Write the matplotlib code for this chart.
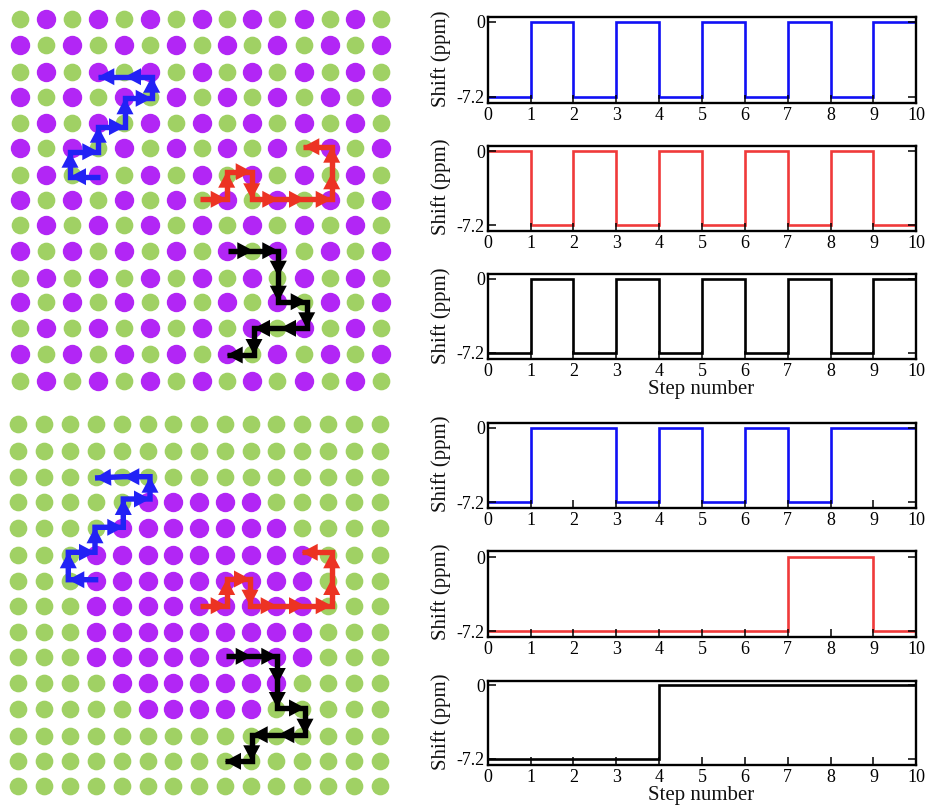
import matplotlib
matplotlib.use("Agg")
import matplotlib.pyplot as plt
import numpy as np

W, H = 928, 808
plt.rcParams['font.family'] = ['Liberation Serif', 'DejaVu Serif']

GREEN = '#a0d164'
PURPLE = '#b226f5'
BLUE = '#2222f5'
RED = '#ec3323'
BLACK = '#000000'
BLUE_T = '#1010f5'
RED_T = '#f03a3a'

# lattice site positions (pixels)
top_x = [20.0, 45.7, 72.3, 98.3, 124.0, 150.0, 175.7, 201.7, 226.7, 252.3, 277.3, 304.0, 330.0, 355.3, 381.0]
top_y = [19.3, 45.3, 71.7, 96.7, 122.7, 148.3, 175.0, 200.0, 225.0, 250.7, 278.3, 301.7, 328.3, 354.0, 380.7]
bot_x = [17.7, 43.7, 70.0, 96.0, 122.0, 147.7, 173.3, 199.3, 225.0, 250.7, 276.0, 302.0, 328.3, 354.3, 380.0]
bot_y = [424.0, 450.7, 477.3, 501.7, 528.3, 554.7, 580.7, 606.3, 632.3, 657.3, 683.3, 709.0, 735.7, 760.7, 786.3]

# purple block in the lower lattice: row -> first and last column
block_rows = [3, 4, 5, 6, 7, 8, 9, 10, 11]
block_first = [5, 4, 3, 3, 3, 3, 3, 4, 5]
block_last = [9, 10, 11, 11, 11, 11, 11, 10, 9]

# spin paths (pixels)
paths_top = {
    BLUE: ([100.0, 70.0, 70.0, 98.3, 98.3, 125.0, 125.0, 151.7, 151.7, 125.0, 98.3],
           [176.7, 176.7, 151.7, 151.7, 126.7, 126.7, 98.3, 98.3, 76.7, 76.7, 76.7]),
    RED: ([200.0, 226.7, 226.7, 251.7, 251.7, 278.3, 305.0, 331.7, 331.7, 331.7, 303.3],
          [199.3, 199.3, 171.7, 171.7, 199.3, 199.3, 199.3, 199.3, 173.3, 146.7, 146.7]),
    BLACK: ([228.3, 253.3, 278.3, 278.3, 278.3, 306.7, 306.7, 280.0, 254.0, 254.0, 226.7],
            [250.7, 250.7, 250.7, 276.7, 301.7, 301.7, 328.3, 328.3, 328.3, 355.0, 355.0]),
}
paths_bot = {
    BLUE: ([98.3, 68.3, 68.3, 95.0, 95.0, 123.3, 123.3, 150.0, 150.0, 123.3, 95.0],
           [579.7, 579.7, 552.3, 552.3, 527.3, 527.3, 499.0, 499.0, 476.7, 476.7, 478.0]),
    RED: ([200.0, 226.7, 226.7, 250.0, 250.0, 276.7, 305.0, 331.7, 331.7, 331.7, 301.7],
          [605.7, 605.7, 579.0, 579.0, 605.7, 605.7, 605.7, 605.7, 579.0, 552.3, 552.3]),
    BLACK: ([225.7, 251.7, 277.3, 277.3, 277.3, 305.0, 305.0, 278.3, 251.7, 251.7, 225.0],
            [656.3, 656.3, 656.3, 684.0, 708.0, 708.0, 734.7, 734.7, 734.7, 761.3, 761.3]),
}

# NMR shift traces: value during each of the ten steps
steps = list(range(11))
traces = [
    ([-7.2, 0, -7.2, 0, -7.2, 0, -7.2, 0, -7.2, 0], BLUE_T),
    ([0, -7.2, 0, -7.2, 0, -7.2, 0, -7.2, 0, -7.2], RED_T),
    ([-7.2, 0, -7.2, 0, -7.2, 0, -7.2, 0, -7.2, 0], BLACK),
    ([-7.2, 0, 0, -7.2, 0, -7.2, 0, -7.2, 0, 0], BLUE_T),
    ([-7.2, -7.2, -7.2, -7.2, -7.2, -7.2, -7.2, 0, 0, -7.2], RED_T),
    ([-7.2, -7.2, -7.2, -7.2, 0, 0, 0, 0, 0, 0], BLACK),
]
# axes box in pixels: top, bottom, pixel of y=0, pixel of y=-7.2
boxes = [
    (17.0, 102.6, 22.0, 96.7),
    (145.7, 231.0, 151.0, 225.0),
    (274.3, 359.3, 278.7, 352.7),
    (422.7, 508.3, 428.0, 502.0),
    (550.7, 636.7, 557.0, 631.0),
    (680.7, 765.3, 685.0, 758.7),
]
x_left, x_right = 487.7, 916.3

fig = plt.figure(figsize=(W / 100, H / 100), dpi=100, facecolor='white')
overlay = fig.add_axes([0, 0, 1, 1])
overlay.set_xlim(0, W)
overlay.set_ylim(H, 0)
overlay.axis('off')


def lattice(xs, ys, is_purple):
    X, Y = np.meshgrid(xs, ys)
    overlay.scatter(X[~is_purple], Y[~is_purple], s=162, c=GREEN, linewidths=0, zorder=2)
    overlay.scatter(X[is_purple], Y[is_purple], s=195, c=PURPLE, linewidths=0, zorder=2)


def draw_paths(paths, head_len=16.0, head_half=8.5):
    for color, (px, py) in paths.items():
        overlay.plot(px, py, color=color, lw=3.9, solid_joinstyle='miter',
                     solid_capstyle='butt', zorder=5)
        for i in range(len(px) - 1):
            tip = np.array([px[i + 1], py[i + 1]])
            d = tip - np.array([px[i], py[i]])
            d = d / np.hypot(*d)
            n = np.array([-d[1], d[0]])
            base = tip - head_len * d
            overlay.fill(*np.array([tip, base + head_half * n, base - head_half * n]).T,
                         color=color, lw=0, zorder=6)


rows, cols = np.indices((15, 15))
lattice(top_x, top_y, (rows + cols) % 2 == 1)
mask = np.zeros((15, 15), bool)
for r, a, b in zip(block_rows, block_first, block_last):
    mask[r, a:b + 1] = True
lattice(bot_x, bot_y, mask)
draw_paths(paths_top)
draw_paths(paths_bot)

for k, ((vals, color), (t, b, y0, y7)) in enumerate(zip(traces, boxes)):
    ax = fig.add_axes([x_left / W, 1 - b / H, (x_right - x_left) / W, (b - t) / H])
    scale = 7.2 / (y7 - y0)
    ax.set_ylim(-7.2 - (b - y7) * scale, (y0 - t) * scale)
    ax.set_xlim(0, 10)
    ax.step(steps, vals + [vals[-1]], where='post', color=color, lw=1.9, zorder=2,
            solid_joinstyle='miter')
    ax.set_xticks(steps)
    ax.set_yticks([-7.2, 0])
    ax.set_yticklabels(['-7.2', '0'])
    ax.tick_params(axis='x', direction='in', length=5.5, width=1.1, labelsize=13, pad=3)
    ax.tick_params(axis='y', direction='in', length=5.8, width=1.1, labelsize=13, pad=2,
                   left=True, right=True)
    for s in ax.spines.values():
        s.set_linewidth(1.7)
        s.set_zorder(4)
    ax.set_axisbelow(False)
    fig.text(441.5 / W, 1 - ((t + b) / 2 - 1.5) / H, 'Shift (ppm)', rotation=90, fontsize=15,
             ha='center', va='center', color='#111111')
    if k in (2, 5):
        fig.text(701.5 / W, 1 - (b + 30.5) / H, 'Step number', fontsize=15,
                 ha='center', va='center', color='#111111')

fig.savefig('out.png', dpi=100)
